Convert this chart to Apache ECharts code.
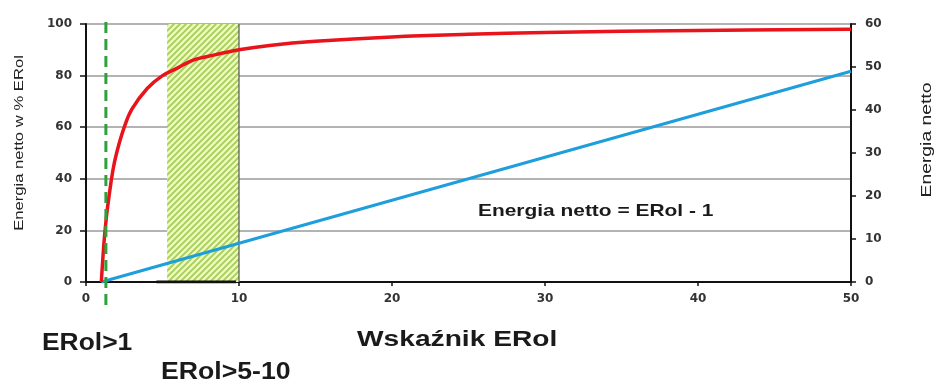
<!DOCTYPE html>
<html>
<head>
<meta charset="utf-8">
<script src="https://cdn.jsdelivr.net/npm/echarts@6/dist/echarts.min.js"></script>
<style>html,body{margin:0;padding:0;background:#fff;}#c{width:938px;height:385px;}</style>
</head>
<body>
<div id="c"></div>
<script>
// Data
var xTicks = [0, 10, 20, 30, 40, 50];
var leftTicks = [0, 20, 40, 60, 80, 100];
var rightTicks = [0, 10, 20, 30, 40, 50, 60];
// Red curve: net energy as % of EROI (left axis)
var netPercent = [[1,0],[1.1,9],[1.2,17],[1.35,26],[1.5,33],[1.75,43],[2,50],[2.5,60],[3,67],[4,75],[5,80],[6,83],[7,86],[8,87.5],[10,90],[12,91.7],[15,93.3],[20,95],[25,96],[30,96.7],[40,97.5],[50,98]];
// Blue line: net energy = EROI - 1 (right axis)
var netEnergy = [[1,0],[10,9],[20,19],[30,29],[40,39],[50,49]];
// Threshold EROI > 1 (dashed green)
var thresholdX = 1.3;
var thresholdSpan = [100.8, -11];
// Band EROI 5-10 (hatched)
var bandX = [5.3, 10];
var bandY = [0, 100];
var baseSegment = [[4.6, 0], [9.8, 0]];

function makePattern() {
  var c = document.createElement('canvas');
  c.width = 6; c.height = 6;
  var g = c.getContext('2d');
  g.fillStyle = '#f0f8c2';
  g.fillRect(0, 0, 6, 6);
  g.strokeStyle = '#a4cf55';
  g.lineWidth = 1.8;
  g.beginPath();
  g.moveTo(-1, 7); g.lineTo(7, -1);
  g.moveTo(-4, 4); g.lineTo(4, -4);
  g.moveTo(2, 10); g.lineTo(10, 2);
  g.stroke();
  return c;
}

var chart = echarts.init(document.getElementById('c'));
var font = 'Liberation Sans, Arial, sans-serif';
var tickFont = 'DejaVu Sans, sans-serif';
var labelStyle = { color: '#333', fontSize: 12, fontWeight: 'bold', fontFamily: tickFont };
chart.setOption({
  animation: false,
  backgroundColor: '#fff',
  grid: { left: 86, right: 87, top: 24, bottom: 103, containLabel: false },
  xAxis: {
    type: 'value', min: xTicks[0], max: xTicks[xTicks.length - 1], interval: 10,
    axisLine: { show: true, onZero: false, lineStyle: { color: '#111', width: 2 } },
    axisTick: { show: true, length: 4, lineStyle: { color: '#111', width: 1.5 } },
    axisLabel: Object.assign({ margin: 11 }, labelStyle),
    splitLine: { show: false }
  },
  yAxis: [{
    type: 'value', min: leftTicks[0], max: leftTicks[leftTicks.length - 1], interval: 20,
    axisLine: { show: true, lineStyle: { color: '#111', width: 2 } },
    axisTick: { show: true, length: 6, lineStyle: { color: '#111', width: 1.5 } },
    axisLabel: Object.assign({ margin: 14 }, labelStyle),
    splitLine: { show: true, lineStyle: { color: '#9a9a9a', width: 1.5 } }
  }, {
    type: 'value', min: rightTicks[0], max: rightTicks[rightTicks.length - 1], interval: 10,
    position: 'right',
    axisLine: { show: true, lineStyle: { color: '#111', width: 2 } },
    axisTick: { show: true, length: 5, lineStyle: { color: '#111', width: 1.5 } },
    axisLabel: Object.assign({ margin: 14 }, labelStyle),
    splitLine: { show: false }
  }],
  series: [{
    type: 'line', name: 'band', data: [], silent: true,
    markArea: {
      silent: true,
      itemStyle: { color: { image: makePattern(), repeat: 'repeat' } },
      data: [[{ xAxis: bandX[0], yAxis: bandY[0] }, { xAxis: bandX[1], yAxis: bandY[1] }]]
    }
  }, {
    type: 'line', name: 'edge', data: [[bandX[1], bandY[0]], [bandX[1], bandY[1]]],
    symbol: 'none', lineStyle: { color: '#555', width: 1.2 }, silent: true
  }, {
    type: 'line', name: 'base', data: baseSegment,
    symbol: 'none', lineStyle: { color: '#111', width: 3 }, silent: true
  }, {
    type: 'line', name: 'netEnergy', yAxisIndex: 1, data: netEnergy,
    symbol: 'none', lineStyle: { color: '#1e9fdc', width: 3 }, silent: true
  }, {
    type: 'line', name: 'netPercent', data: netPercent, smooth: 0.4,
    symbol: 'none', lineStyle: { color: '#e8131b', width: 3.5 }, silent: true
  }, {
    type: 'line', name: 'threshold', data: [[thresholdX, thresholdSpan[0]], [thresholdX, thresholdSpan[1]]],
    clip: false, symbol: 'none', lineStyle: { color: '#2fa13a', width: 3, type: [11, 6] }, silent: true
  }],
  graphic: [
    { type: 'text', x: 19, y: 143, rotation: Math.PI / 2, scaleX: 1.28,
      style: { text: 'Energia netto w % ERol', fill: '#222', font: '13px ' + font, align: 'center', verticalAlign: 'middle' } },
    { type: 'text', x: 927, y: 140, rotation: Math.PI / 2, scaleX: 1.38,
      style: { text: 'Energia netto', fill: '#222', font: '14px ' + font, align: 'center', verticalAlign: 'middle' } },
    { type: 'text', x: 478, y: 211, scaleX: 1.23,
      style: { text: 'Energia netto = ERol - 1', fill: '#1a1a1a', font: 'bold 17px ' + font, align: 'left', verticalAlign: 'middle' } },
    { type: 'text', x: 357, y: 340, scaleX: 1.28,
      style: { text: 'Wskaźnik ERol', fill: '#1a1a1a', font: 'bold 22px ' + font, align: 'left', verticalAlign: 'middle' } },
    { type: 'text', x: 42, y: 343, scaleX: 1.1,
      style: { text: 'ERol>1', fill: '#1a1a1a', font: 'bold 24px ' + font, align: 'left', verticalAlign: 'middle' } },
    { type: 'text', x: 161, y: 372, scaleX: 1.11,
      style: { text: 'ERol>5-10', fill: '#1a1a1a', font: 'bold 24px ' + font, align: 'left', verticalAlign: 'middle' } }
  ]
});
</script>
</body>
</html>
